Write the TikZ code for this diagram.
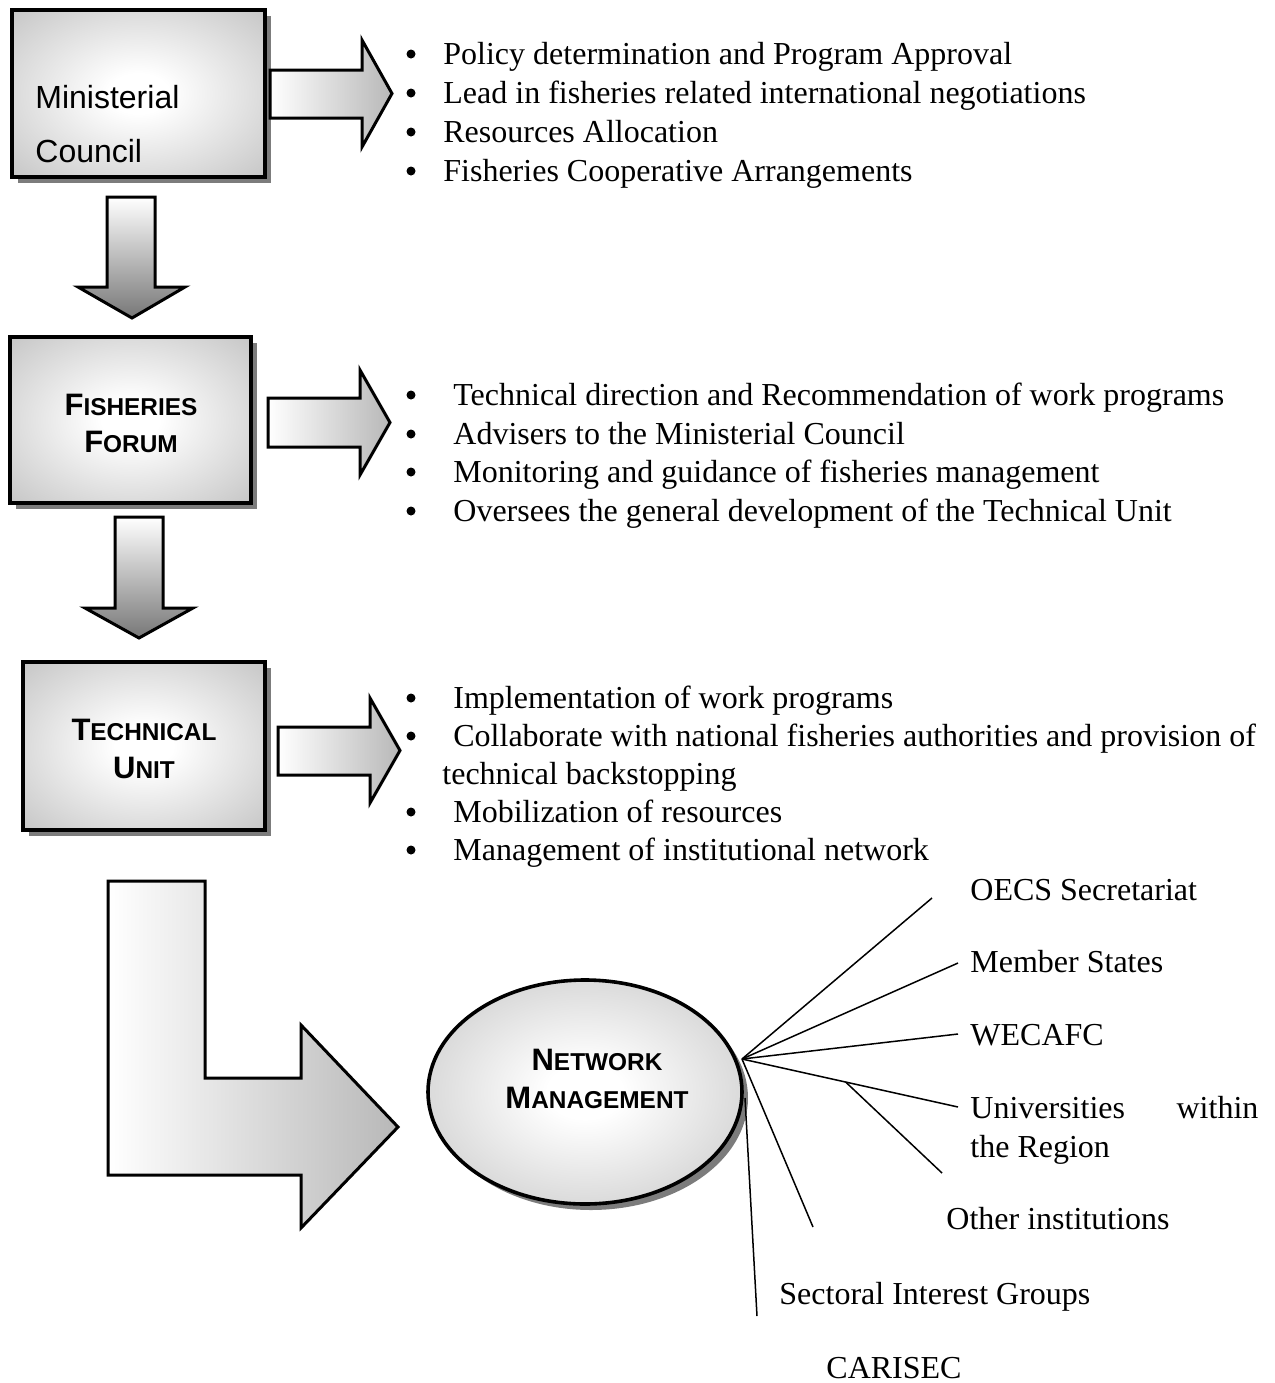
\documentclass[tikz,border=0pt]{standalone}
\usepackage{fontspec}
\setmainfont{Liberation Serif}
\setsansfont{Liberation Sans}
\usetikzlibrary{shapes.geometric,shadows,calc}
\definecolor{boxgray}{HTML}{AEAEAE}
\definecolor{shadowgray}{HTML}{7C7C7C}
\definecolor{arrgray}{HTML}{B8B8B8}
\definecolor{downgray}{HTML}{777777}
\pgfdeclareradialshading{glow}{\pgfpoint{0bp}{0bp}}{color(0bp)=(white); color(6bp)=(white); color(48bp)=(boxgray); color(75bp)=(boxgray)}
\newcommand\fsc[2]{#1{\fontsize{12.2}{14}\selectfont #2}}
\begin{document}
\begin{tikzpicture}[x=0.5pt,y=-0.5pt,
  boxnode/.style={draw=black, line width=2pt, shading=glow, inner sep=0pt,
    drop shadow={fill=shadowgray, opacity=1, shadow xshift=3pt, shadow yshift=-3pt}},
  ellnode/.style={ellipse, draw=black, line width=1.8pt, shading=glow, inner sep=0pt,
    drop shadow={fill=shadowgray, opacity=1, shadow xshift=3pt, shadow yshift=-3pt}},
  rarrow/.style={draw=black, line width=1.5pt, line join=miter, left color=white, right color=arrgray},
  darrow/.style={draw=black, line width=1.5pt, line join=miter, top color=white, bottom color=downgray},
  larrow/.style={draw=black, line width=1.5pt, line join=miter, left color=white, right color=arrgray},
  netline/.style={draw=black, line width=0.75pt},
  txt/.style={inner sep=0pt, anchor=base west, font=\fontsize{16}{19.5}\selectfont},
  bul/.style={circle, fill=black, inner sep=0pt, minimum size=4.5pt},
  sanstxt/.style={inner sep=0pt, anchor=base west, font=\sffamily\fontsize{16}{19}\selectfont},
  sctxt/.style={inner sep=0pt, anchor=base, font=\sffamily\bfseries\fontsize{15.5}{18}\selectfont}
]
\useasboundingbox (0,0) rectangle (1275,1383);

% ---------- boxes ----------
\node[boxnode, minimum width=126.5pt, minimum height=83.5pt] (mc) at (138.5,93.5) {};
\node[boxnode, minimum width=120.5pt, minimum height=83pt] (ff) at (130.5,420) {};
\node[boxnode, minimum width=121pt, minimum height=84pt] (tu) at (144,746) {};
\node[ellnode, minimum width=157pt, minimum height=112pt] (nm) at (585,1092) {};

\node[sanstxt] (mc1) at (35,108) {Ministerial};
\node[sanstxt] (mc2) at (35,162) {Council};
\node[sctxt] (ff1) at (131,415) {\fsc{F}{ISHERIES}};
\node[sctxt] (ff2) at (131,452) {\fsc{F}{ORUM}};
\node[sctxt] (tu1) at (144,740) {\fsc{T}{ECHNICAL}};
\node[sctxt] (tu2) at (144,778) {\fsc{U}{NIT}};
\node[sctxt] (nm1) at (597,1070) {\fsc{N}{ETWORK}};
\node[sctxt] (nm2) at (597,1108) {\fsc{M}{ANAGEMENT}};

% ---------- block arrows ----------
\draw[rarrow] (270,70) -- (362,70) -- (362,40) -- (392,93.5) -- (362,147) -- (362,118) -- (270,118) -- cycle;
\draw[rarrow] (268,398) -- (360,398) -- (360,370) -- (390,422.5) -- (360,475) -- (360,447) -- (268,447) -- cycle;
\draw[rarrow] (278,727) -- (370,727) -- (370,698) -- (400,750.5) -- (370,803) -- (370,775) -- (278,775) -- cycle;
\draw[darrow] (107,197) -- (155,197) -- (155,287) -- (185,287) -- (132,318) -- (78,287) -- (107,287) -- cycle;
\draw[darrow] (115,517) -- (163,517) -- (163,608) -- (193,608) -- (139,638) -- (85,608) -- (115,608) -- cycle;
\draw[larrow] (108,881) -- (205,881) -- (205,1078) -- (301,1078) -- (301,1025) -- (398,1127) -- (301,1228) -- (301,1175) -- (108,1175) -- cycle;

% ---------- bullet lists ----------
\foreach \y/\t [count=\i] in {64/Policy determination and Program Approval,
  103/Lead in fisheries related international negotiations,
  142/Resources Allocation,
  181/Fisheries Cooperative Arrangements}{
  \node[bul] (ba\i) at (411,\y-10) {};
  \node[txt] (ta\i) at (443,\y) {\t};
}
\foreach \y/\t [count=\i] in {405/Technical direction and Recommendation of work programs,
  444/Advisers to the Ministerial Council,
  482/Monitoring and guidance of fisheries management,
  521/Oversees the general development of the Technical Unit}{
  \node[bul] (bb\i) at (411,\y-10) {};
  \node[txt] (tb\i) at (453,\y) {\t};
}
\node[bul] (bc1) at (411,698) {};
\node[txt] (tc1) at (453,708) {Implementation of work programs};
\node[bul] (bc2) at (411,736) {};
\node[txt] (tc2) at (453,746) {Collaborate with national fisheries authorities and provision of};
\node[txt] (tc2b) at (442,784) {technical backstopping};
\node[bul] (bc3) at (411,812) {};
\node[txt] (tc3) at (453,822) {Mobilization of resources};
\node[bul] (bc4) at (411,850) {};
\node[txt] (tc4) at (453,860) {Management of institutional network};

% ---------- network labels ----------
\node[txt] (oecs) at (970,900) {OECS Secretariat};
\node[txt] (mem) at (970,972) {Member States};
\node[txt] (wec) at (970,1045) {WECAFC};
\node[txt] (uni) at (970,1118) {\parbox[t]{144pt}{\fontsize{16}{19.5}\selectfont Universities\hfill within\\the Region}};
\node[txt] (oth) at (946,1229) {Other institutions};
\node[txt] (sec) at (779,1304) {Sectoral Interest Groups};
\node[txt] (car) at (826,1378) {CARISEC};

% ---------- network lines ----------
\coordinate (hub) at (742,1059);
\coordinate (hub2) at (745,1098);
\coordinate (eoecs) at (932,898);
\coordinate (emem) at (958,963);
\coordinate (ewec) at (958,1034);
\coordinate (euni) at (958,1107);
\coordinate (bstart) at ($(hub)!0.48!(euni)$);
\coordinate (ebr) at (942,1173);
\coordinate (eoth) at (813,1227);
\coordinate (esec) at (757,1316);
\draw[netline] (hub) -- (eoecs);
\draw[netline] (hub) -- (emem);
\draw[netline] (hub) -- (ewec);
\draw[netline] (hub) -- (euni);
\draw[netline] (bstart) -- (ebr);
\draw[netline] (hub) -- (eoth);
\draw[netline] (hub2) -- (esec);
\end{tikzpicture}
\end{document}
